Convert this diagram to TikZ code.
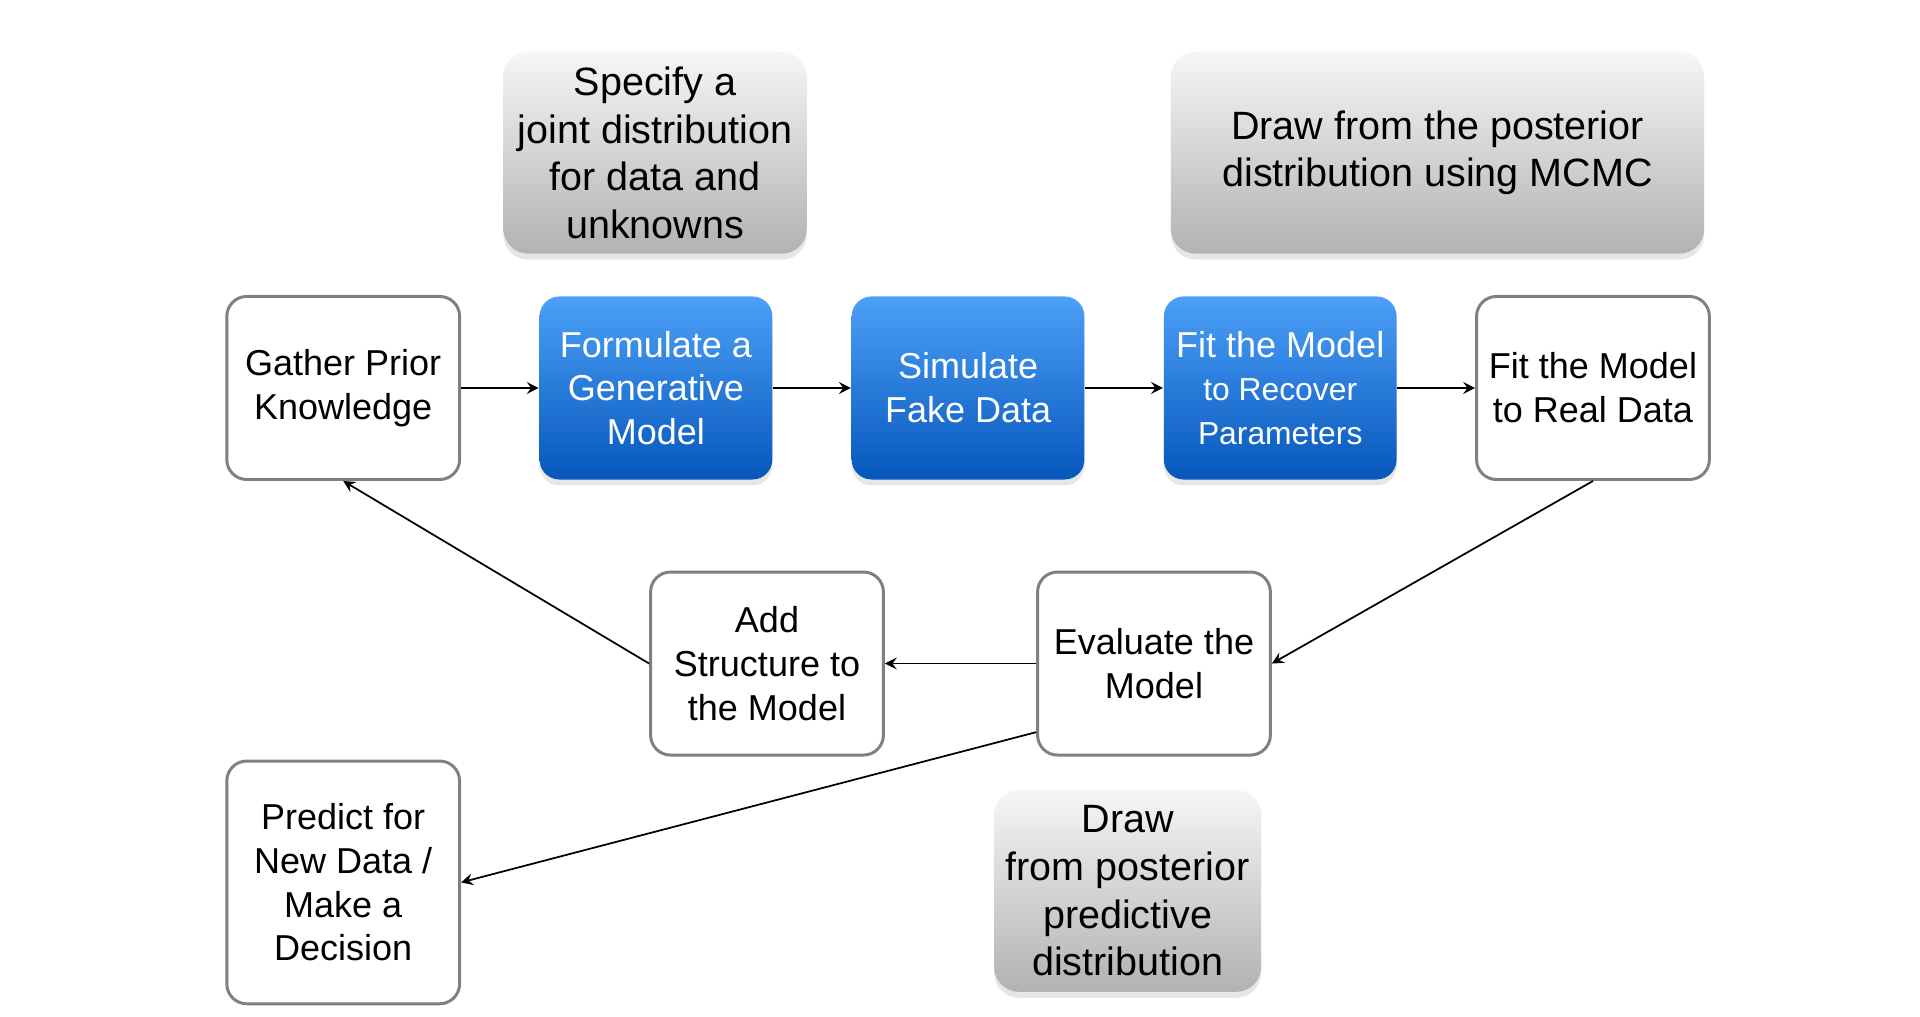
\documentclass[tikz,border=0pt]{standalone}
\usepackage{fontspec}
\setmainfont{Liberation Sans}
\usetikzlibrary{positioning,shadows}

\definecolor{bluetop}{RGB}{76,160,247}
\definecolor{bluebot}{RGB}{6,86,188}
\definecolor{graytop}{RGB}{246,246,246}
\definecolor{graybot}{RGB}{178,178,178}
\definecolor{edgegray}{RGB}{128,128,128}

\newcommand{\smallline}{\fontsize{9.1}{11.2}\selectfont}

\tikzset{
  plainbox/.style={draw=edgegray, line width=0.85pt, fill=white, rounded corners=0.2cm,
    minimum width=2.34cm, minimum height=1.84cm, align=center,
    font=\fontsize{10.3}{12.5}\selectfont},
  bluebox/.style={rounded corners=0.2cm, top color=bluetop, bottom color=bluebot, text=white,
    drop shadow={shadow xshift=0pt, shadow yshift=-0.6mm, opacity=0.2},
    minimum width=2.34cm, minimum height=1.84cm, align=center,
    font=\fontsize{10.3}{12.5}\selectfont},
  notebox/.style={rounded corners=0.25cm, top color=graytop, bottom color=graybot,
    drop shadow={shadow xshift=0pt, shadow yshift=-0.6mm, opacity=0.2},
    minimum height=2.03cm, align=center,
    font=\fontsize{11.3}{13.6}\selectfont},
}

\begin{document}
\begin{tikzpicture}[>=stealth, line width=0.5pt]
        \useasboundingbox (0,0) rectangle (19.3,-10.22);

        % notes above and below
        \node[notebox, minimum width=3.05cm] (joint) at (6.585,-1.535) {Specify a\\joint distribution\\for data and\\unknowns};
        \node[notebox, minimum width=5.36cm] (mcmc) at (14.45,-1.535) {Draw from the posterior\\distribution using MCMC};
        \node[notebox, minimum width=2.66cm] (ppd) at (11.335,-8.955) {Draw\\from posterior\\predictive\\distribution};

        % main row
        \node[plainbox] (prior) at (3.45,-3.90) {Gather Prior\\Knowledge};
        \node[bluebox, right=0.78cm of prior] (formulate) {Formulate a\\Generative\\Model};
        \node[bluebox, right=0.78cm of formulate] (simulate) {Simulate\\Fake Data};
        \node[bluebox, right=0.78cm of simulate] (recover) {Fit the Model\\\smallline to Recover\\\smallline Parameters};
        \node[plainbox, right=0.78cm of recover] (real) {Fit the Model\\to Real Data};

        % second row
        \node[plainbox] (evaluate) at (11.60,-6.67) {Evaluate the\\Model};
        \node[plainbox] (structure) at (7.71,-6.67) {Add\\Structure to\\the Model};
        \node[plainbox, minimum height=2.44cm] (predict) at (3.45,-8.87) {Predict for\\New Data /\\Make a\\Decision};

        \draw[->] (prior) -- (formulate);
        \draw[->] (formulate) -- (simulate);
        \draw[->] (simulate) -- (recover);
        \draw[->] (recover) -- (real);
        \draw[->] (real.south) -- (evaluate.east);
        \draw[->] (evaluate) -- (structure);
        \draw[->] (structure.west) -- (prior.south);
        \draw[->] ([yshift=-0.69cm]evaluate.west) -- (predict.east);
    \end{tikzpicture}
\end{document}
